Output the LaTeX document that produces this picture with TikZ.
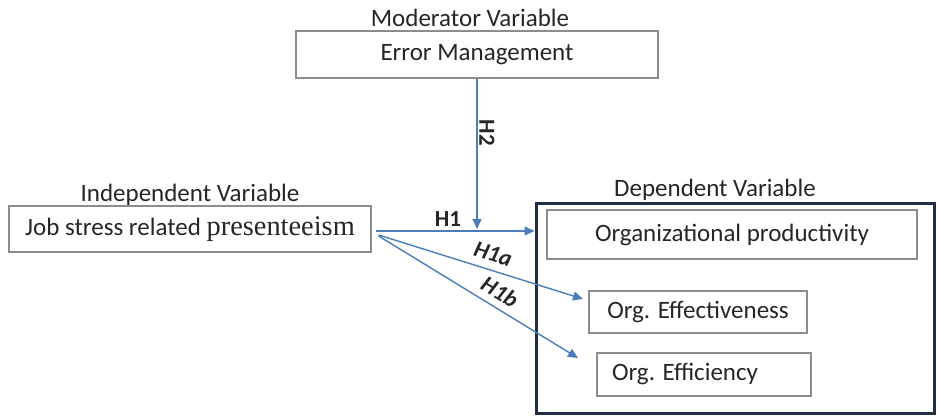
\documentclass[tikz,border=0pt]{standalone}
\usepackage{fontspec}
\setmainfont{Carlito}
\newfontfamily\serifpart{Liberation Serif}
\usetikzlibrary{arrows.meta,calc}
\definecolor{arrowblue}{HTML}{4A7EBB}
\definecolor{boxgray}{HTML}{8C8C8C}
\definecolor{navy}{HTML}{1F2D45}
\definecolor{txt}{HTML}{262626}
\begin{document}
\begin{tikzpicture}[x=0.5pt,y=-0.5pt,
  every node/.style={font=\fontsize{12.5}{15}\selectfont, text=txt},
  varbox/.style={draw=boxgray, line width=0.6pt, inner sep=0pt},
  conn/.style={draw=arrowblue, line width=0.7pt, -{Triangle[length=5pt,width=4.5pt]}},
  hyp/.style={font=\fontsize{11.5}{13}\selectfont\bfseries, inner sep=0pt},
  hypit/.style={font=\fontsize{11.5}{13}\selectfont\bfseries\itshape, inner sep=0pt}]
\useasboundingbox (0,0) rectangle (937,416);

% Moderator
\node (modlbl) at (470,18) {Moderator Variable};
\node[varbox, minimum width=181pt, minimum height=23.5pt] (err) at (477,54.5) {Error Management};

% Independent
\node (indlbl) at (190,195) {Independent Variable};
\node[varbox, minimum width=181pt, minimum height=23pt] (job) at (190,229)
  {Job stress related {\serifpart\fontsize{14.2}{15}\selectfont presenteeism}};

% Dependent
\node[draw=navy, line width=1.5pt, minimum width=199pt, minimum height=105pt, inner sep=0pt] (dep) at (735,309) {};
\node (deplbl) at (715,190) {Dependent Variable};
\node[varbox, minimum width=185pt, minimum height=24.5pt] (prod) at (732,234.5) {Organizational productivity};
\node[varbox, minimum width=109pt, minimum height=21pt] (eff) at (698,312) {Org. Effectiveness};
\node[varbox, minimum width=107pt, minimum height=21.5pt] (effi) at (704,374.5) {Org. Efficiency\kern19pt\relax};

% Connectors
\coordinate (h2end) at (477,229);
\draw[conn] (err.south) -- (h2end);
\coordinate (jobout) at ($(job.east)+(4,2)$);
\draw[conn] (jobout) -- (jobout -| dep.west);
\coordinate (h1astart) at ($(job.east)+(7,6)$);
\coordinate (h1aend) at (583,299);
\draw[conn] (h1astart) -- (h1aend);
\coordinate (h1bstart) at ($(job.east)+(7,7)$);
\coordinate (h1bend) at (578,358);
\draw[conn] (h1bstart) -- (h1bend);

% Labels
\node[hyp, rotate=-90] (h2lbl) at (487,133) {H2};
\node[hyp] (h1lbl) at (448,219) {H1};
\node[hypit, rotate=-17] (h1albl) at (493,254) {H1a};
\node[hypit, rotate=-31] (h1blbl) at (500,292) {H1b};
\end{tikzpicture}
\end{document}
